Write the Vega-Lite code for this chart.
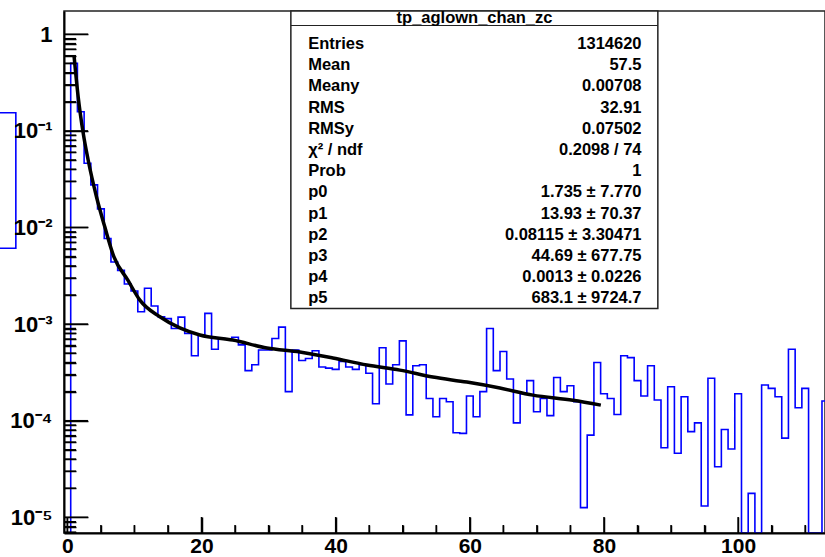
{
  "$schema": "https://vega.github.io/schema/vega-lite/v6.json",
  "width": 761,
  "height": 522,
  "autosize": {"type": "none"},
  "padding": {"left": 64, "top": 11, "right": 0, "bottom": 24},
  "background": "white",
  "config": {"view": {"stroke": "#222222", "strokeWidth": 1.5}, "font": "Liberation Sans"},
  "datasets": {
    "hist": [
      {"x":0,"y":0},{"x":1,"y":0.50},{"x":2,"y":0.158},{"x":3,"y":0.0462},{"x":4,"y":0.0276},{"x":5,"y":0.0156},
      {"x":6,"y":0.0077},{"x":7,"y":0.0044},{"x":8,"y":0.0036},{"x":9,"y":0.0026},{"x":10,"y":0.0022},
      {"x":11,"y":0.00134},{"x":12,"y":0.00235},{"x":13,"y":0.00154},{"x":14,"y":0.00119},{"x":15,"y":0.00114},
      {"x":16,"y":0.0009},{"x":17,"y":0.00118},{"x":18,"y":0.0008},{"x":19,"y":0.00047},{"x":20,"y":0.00077},
      {"x":21,"y":0.00129},{"x":22,"y":0.00055},{"x":23,"y":0.00071},{"x":24,"y":0.0007},{"x":25,"y":0.00073},
      {"x":26,"y":0.00061},{"x":27,"y":0.00033},{"x":28,"y":0.00038},{"x":29,"y":0.00054},{"x":30,"y":0.00054},
      {"x":31,"y":0.00071},{"x":32,"y":0.00093},{"x":33,"y":0.0002},{"x":34,"y":0.00054},{"x":35,"y":0.00042},
      {"x":36,"y":0.00044},{"x":37,"y":0.00053},{"x":38,"y":0.00036},{"x":39,"y":0.00035},{"x":40,"y":0.00034},
      {"x":41,"y":0.00041},{"x":42,"y":0.00036},{"x":43,"y":0.00034},{"x":44,"y":0.00038},{"x":45,"y":0.00031},
      {"x":46,"y":0.00015},{"x":47,"y":0.00057},{"x":48,"y":0.00024},{"x":49,"y":0.00038},{"x":50,"y":0.00067},
      {"x":51,"y":0.000115},{"x":52,"y":0.00037},{"x":53,"y":0.00038},{"x":54,"y":0.00017},{"x":55,"y":0.00011},
      {"x":56,"y":0.00017},{"x":57,"y":0.000157},{"x":58,"y":0.000075},{"x":59,"y":0.000074},{"x":60,"y":0.00018},
      {"x":61,"y":0.00011},{"x":62,"y":0.0002},{"x":63,"y":0.0009},{"x":64,"y":0.00033},{"x":65,"y":0.00052},
      {"x":66,"y":0.00027},{"x":67,"y":0.000095},{"x":68,"y":0.00019},{"x":69,"y":0.00026},{"x":70,"y":0.000124},
      {"x":71,"y":0.00017},{"x":72,"y":0.000113},{"x":73,"y":0.00028},{"x":74,"y":0.0002},{"x":75,"y":0.00023},
      {"x":76,"y":0.000157},{"x":77,"y":0.0000126},{"x":78,"y":0.000071},{"x":79,"y":0.0004},{"x":80,"y":0.00019},
      {"x":81,"y":0.00017},{"x":82,"y":0.000116},{"x":83,"y":0.00047},{"x":84,"y":0.00045},{"x":85,"y":0.00026},
      {"x":86,"y":0.00018},{"x":87,"y":0.00037},{"x":88,"y":0.000164},{"x":89,"y":0.0000525},{"x":90,"y":0.000225},
      {"x":91,"y":0.000046},{"x":92,"y":0.000177},{"x":93,"y":0.000077},{"x":94,"y":0.000095},{"x":95,"y":0.0000131},
      {"x":96,"y":0.000275},{"x":97,"y":0.0000334},{"x":98,"y":0.000081},{"x":99,"y":0.000051},{"x":100,"y":0.00019},
      {"x":101,"y":0},{"x":102,"y":0.0000177},{"x":103,"y":0},{"x":104,"y":0.000234},{"x":105,"y":0.000216},
      {"x":106,"y":0.000177},{"x":107,"y":0.000066},{"x":108,"y":0.00055},{"x":109,"y":0.000136},{"x":110,"y":0.000216},
      {"x":111,"y":0},{"x":112,"y":0},{"x":113,"y":0.00016}
    ],
    "fit": [
      {"x":1.0,"y":0.596},{"x":1.61,"y":0.226},{"x":2.36,"y":0.0951},{"x":3.10,"y":0.050},{"x":4.35,"y":0.0207},
      {"x":5.59,"y":0.0101},{"x":6.93,"y":0.00499},{"x":9.02,"y":0.00285},{"x":10.81,"y":0.00177},
      {"x":13.79,"y":0.00119},{"x":16.77,"y":0.000912},{"x":19.75,"y":0.000771},{"x":24.67,"y":0.000684},
      {"x":29.74,"y":0.000565},{"x":34.66,"y":0.000514},{"x":39.58,"y":0.000446},{"x":44.65,"y":0.000377},
      {"x":49.57,"y":0.000334},{"x":54.49,"y":0.000283},{"x":59.56,"y":0.000251},{"x":64.48,"y":0.000218},
      {"x":69.4,"y":0.000184},{"x":75.36,"y":0.000163},{"x":79.53,"y":0.000145}
    ],
    "ymajor": [1e-5, 1e-4, 1e-3, 1e-2, 0.1, 1],
    "yminor": [7e-6,8e-6,9e-6,2e-5,3e-5,4e-5,5e-5,6e-5,7e-5,8e-5,9e-5,2e-4,3e-4,4e-4,5e-4,6e-4,7e-4,8e-4,9e-4,2e-3,3e-3,4e-3,5e-3,6e-3,7e-3,8e-3,9e-3,2e-2,3e-2,4e-2,5e-2,6e-2,7e-2,8e-2,9e-2,0.2,0.3,0.4,0.5,0.6,0.7,0.8,0.9],
    "xmajor": [0, 20, 40, 60, 80, 100],
    "xminor": [5,10,15,25,30,35,45,50,55,65,70,75,85,90,95,105,110],
    "stats": [
      {
        "title": "tp_aglown_chan_zc",
        "names": ["Entries","Mean","Meany","RMS","RMSy","χ² / ndf","Prob","p0","p1","p2","p3","p4","p5"],
        "vals": ["1314620","57.5","0.00708","32.91","0.07502","0.2098 / 74","1","1.735 ± 7.770","13.93 ± 70.37","0.08115 ± 3.30471","44.69 ± 677.75","0.0013 ± 0.0226","683.1 ± 9724.7"]
      }
    ]
  },
  "layer": [
    {
      "data": {"name": "hist"},
      "mark": {"type": "line", "interpolate": "step", "color": "#0000ff", "strokeWidth": 1.6, "clip": true, "invalid": "show"},
      "encoding": {
        "x": {"field": "x", "type": "quantitative",
          "scale": {"domain": [-0.5, 112.95], "nice": false, "zero": false},
          "axis": {
            "orient": "bottom", "zindex": 1,
            "values": [0,20,40,60,80,100],
            "tickSize": -16,
            "labelFontSize": 21, "labelFontWeight": "bold", "labelFont": "Liberation Sans", "labelColor": "black",
            "labelBaseline": "top", "labelPadding": 18, "labelFlush": false, "labelOverlap": false,
            "domainColor": "black", "domainWidth": 2, "tickColor": "black", "tickWidth": 1.5,
            "grid": false, "title": null
          }
        },
        "y": {"field": "y", "type": "quantitative",
          "scale": {"type": "log", "domain": [6.88e-6, 1.742], "nice": false, "clamp": true},
          "axis": {
            "orient": "left", "zindex": 1,
            "values": [1e-5,1e-4,1e-3,1e-2,0.1,1],
            "tickSize": -24,
            "labelExpr": "['1','10⁻¹','10⁻²','10⁻³','10⁻⁴','10⁻⁵'][-round(log(datum.value)/LN10)]",
            "labelFontSize": 22, "labelFontWeight": "bold", "labelFont": "Liberation Sans", "labelColor": "black",
            "labelPadding": 36, "labelFlush": false, "labelOverlap": false, "labelBaseline": "middle",
            "domainColor": "black", "domainWidth": 2, "tickColor": "black", "tickWidth": 1.5,
            "grid": false, "title": null
          }
        }
      }
    },
    {
      "data": {"name": "fit"},
      "mark": {"type": "line", "interpolate": "monotone", "color": "black", "strokeWidth": 3.5, "clip": true},
      "encoding": {
        "x": {"field": "x", "type": "quantitative",
          "axis": {
            "orient": "bottom", "zindex": 1,
            "values": [5,10,15,25,30,35,45,50,55,65,70,75,85,90,95,105,110],
            "tickSize": -8, "labels": false, "domain": false,
            "tickColor": "black", "tickWidth": 1.5, "grid": false, "title": null
          }
        },
        "y": {"field": "y", "type": "quantitative",
          "axis": {
            "orient": "left", "zindex": 1,
            "values": [7e-6,8e-6,9e-6,2e-5,3e-5,4e-5,5e-5,6e-5,7e-5,8e-5,9e-5,2e-4,3e-4,4e-4,5e-4,6e-4,7e-4,8e-4,9e-4,2e-3,3e-3,4e-3,5e-3,6e-3,7e-3,8e-3,9e-3,2e-2,3e-2,4e-2,5e-2,6e-2,7e-2,8e-2,9e-2,0.2,0.3,0.4,0.5,0.6,0.7,0.8,0.9],
            "tickSize": -12, "labels": false, "domain": false,
            "tickColor": "black", "tickWidth": 1.5, "grid": false, "title": null
          }
        }
      }
    },
    {
      "data": {"name": "ymajor"},
      "mark": {"type": "rule", "color": "black", "strokeWidth": 1.5},
      "encoding": {
        "y": {"field": "data", "type": "quantitative", "axis": null},
        "x": {"datum": -0.5, "type": "quantitative", "axis": null},
        "x2": {"datum": 3.08}
      }
    },
    {
      "data": {"name": "yminor"},
      "mark": {"type": "rule", "color": "black", "strokeWidth": 1.5},
      "encoding": {
        "y": {"field": "data", "type": "quantitative", "axis": null},
        "x": {"datum": -0.5, "type": "quantitative", "axis": null},
        "x2": {"datum": 1.29}
      }
    },
    {
      "data": {"name": "xmajor"},
      "mark": {"type": "rule", "color": "black", "strokeWidth": 1.5},
      "encoding": {
        "x": {"field": "data", "type": "quantitative", "axis": null},
        "y": {"datum": 6.88e-6, "type": "quantitative", "axis": null},
        "y2": {"datum": 1.007e-5}
      }
    },
    {
      "data": {"name": "xminor"},
      "mark": {"type": "rule", "color": "black", "strokeWidth": 1.5},
      "encoding": {
        "x": {"field": "data", "type": "quantitative", "axis": null},
        "y": {"datum": 6.88e-6, "type": "quantitative", "axis": null},
        "y2": {"datum": 8.33e-6}
      }
    },
    {
      "data": {"values": [{}]},
      "mark": {"type": "rect", "fill": "white", "fillOpacity": 0, "stroke": "#0000ff", "strokeWidth": 1.6, "clip": false},
      "encoding": {
        "x": {"datum": -10.8, "type": "quantitative", "axis": null},
        "x2": {"datum": -7.68},
        "y": {"datum": 0.1543, "type": "quantitative", "axis": null},
        "y2": {"datum": 0.00609}
      }
    },
    {
      "data": {"name": "stats"},
      "mark": {"type": "rect", "fill": "white", "stroke": "#222222", "strokeWidth": 1.5},
      "encoding": {
        "x": {"datum": 33.32, "type": "quantitative", "axis": null},
        "x2": {"datum": 88.03},
        "y": {"datum": 1.742, "type": "quantitative", "axis": null},
        "y2": {"datum": 0.00145}
      }
    },
    {
      "data": {"name": "stats"},
      "mark": {"type": "rule", "stroke": "#222222", "strokeWidth": 1.2},
      "encoding": {
        "x": {"datum": 33.32, "type": "quantitative", "axis": null},
        "x2": {"datum": 88.03},
        "y": {"datum": 1.233, "type": "quantitative", "axis": null}
      }
    },
    {
      "data": {"name": "stats"},
      "mark": {"type": "text", "align": "center", "baseline": "middle", "fontSize": 16.5, "fontWeight": "bold", "font": "Liberation Sans", "color": "black"},
      "encoding": {
        "x": {"datum": 60.7, "type": "quantitative", "axis": null},
        "y": {"datum": 1.475, "type": "quantitative", "axis": null},
        "text": {"field": "title"}
      }
    },
    {
      "data": {"name": "stats"},
      "mark": {"type": "text", "align": "left", "baseline": "alphabetic", "lineHeight": 21.2, "fontSize": 16.5, "fontWeight": "bold", "font": "Liberation Sans", "color": "black"},
      "encoding": {
        "x": {"datum": 35.9, "type": "quantitative", "axis": null},
        "y": {"datum": 0.7045, "type": "quantitative", "axis": null},
        "text": {"field": "names"}
      }
    },
    {
      "data": {"name": "stats"},
      "mark": {"type": "text", "align": "right", "baseline": "alphabetic", "lineHeight": 21.2, "fontSize": 16.5, "fontWeight": "bold", "font": "Liberation Sans", "color": "black"},
      "encoding": {
        "x": {"datum": 85.6, "type": "quantitative", "axis": null},
        "y": {"datum": 0.7045, "type": "quantitative", "axis": null},
        "text": {"field": "vals"}
      }
    }
  ],
  "resolve": {"axis": {"x": "independent", "y": "independent"}}
}
